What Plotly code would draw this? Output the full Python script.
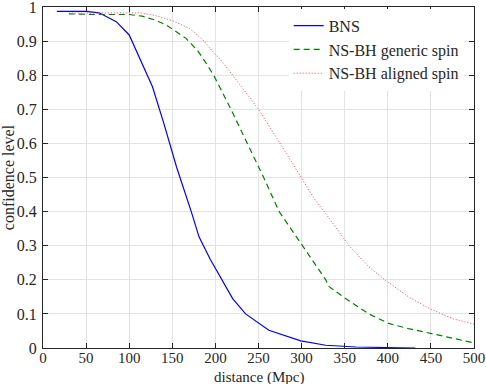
import plotly.graph_objects as go

# BNS
bns_x = [16, 50, 65, 85, 100, 127, 140, 155, 172, 181, 194, 208, 220, 235, 262, 299, 328, 363, 400, 432]
bns_y = [0.987, 0.987, 0.983, 0.957, 0.918, 0.766, 0.66, 0.53, 0.40, 0.326, 0.26, 0.20, 0.145, 0.10, 0.052, 0.021, 0.008, 0.003, 0.001, 0.0]

# NS-BH generic spin
gen_x = [30, 60, 100, 115, 130, 143, 166, 180, 188, 198, 218, 237, 256, 274, 301, 328, 332, 351, 378, 401, 424, 459, 500]
gen_y = [0.980, 0.978, 0.978, 0.973, 0.962, 0.947, 0.908, 0.87, 0.84, 0.80, 0.70, 0.60, 0.50, 0.40, 0.30, 0.20, 0.18, 0.145, 0.10, 0.072, 0.057, 0.037, 0.015]

# NS-BH aligned spin
ali_x = [30, 112, 130, 150, 170, 185, 197, 206, 220, 235, 250, 275, 300, 316, 328, 355, 378, 397, 424, 448, 475, 500]
ali_y = [0.982, 0.983, 0.975, 0.96, 0.937, 0.905, 0.869, 0.845, 0.80, 0.75, 0.70, 0.60, 0.50, 0.433, 0.394, 0.30, 0.238, 0.199, 0.15, 0.116, 0.086, 0.07]

x_ticks = [0, 50, 100, 150, 200, 250, 300, 350, 400, 450, 500]
y_ticks = [0, 0.1, 0.2, 0.3, 0.4, 0.5, 0.6, 0.7, 0.8, 0.9, 1]

FONT = "Liberation Serif"
AX = "#262626"
FS = 16

fig = go.Figure()
fig.add_trace(go.Scatter(x=bns_x, y=bns_y, mode="lines", name="BNS",
                         line=dict(color="#0000ff", width=1.2)))
fig.add_trace(go.Scatter(x=gen_x, y=gen_y, mode="lines", name="NS-BH generic spin",
                         line=dict(color="#008000", width=1.2, dash="6px,4px")))
fig.add_trace(go.Scatter(x=ali_x, y=ali_y, mode="lines", name="NS-BH aligned spin",
                         line=dict(color="#ff3040", width=0.9, dash="1px,2px")))

axis_common = dict(showline=True, linecolor=AX, linewidth=1, mirror="ticks",
                   ticks="inside", ticklen=5, tickcolor=AX, tickwidth=1,
                   showgrid=True, gridcolor="#e3e3e3", gridwidth=1, zeroline=False,
                   automargin=False, ticklabeloverflow="allow")

fig.update_xaxes(range=[0, 500], tickvals=x_ticks, ticktext=[str(v) for v in x_ticks],
                 ticklabelstandoff=-4, tickfont=dict(family=FONT, size=15, color=AX),
                 **axis_common)
fig.update_yaxes(range=[0, 1], tickvals=y_ticks, ticktext=[("%g" % v) for v in y_ticks],
                 ticklabelstandoff=2, tickfont=dict(family=FONT, size=FS, color=AX),
                 title=dict(text="confidence level", font=dict(family=FONT, size=FS, color=AX), standoff=2),
                 **axis_common)

fig.add_annotation(text="distance (Mpc)", xref="paper", yref="paper",
                   x=0.5, y=-29 / 341, xanchor="center", yanchor="middle",
                   showarrow=False, font=dict(family=FONT, size=15, color=AX))

fig.update_layout(
    width=486, height=384,
    margin=dict(l=43, r=12, t=7, b=36),
    plot_bgcolor="white", paper_bgcolor="white",
    font=dict(family=FONT, size=FS, color=AX),
    legend=dict(x=0.57, y=0.995, xanchor="left", yanchor="top",
                bgcolor="white", borderwidth=0,
                font=dict(family=FONT, size=FS, color=AX), tracegroupgap=0),
)

fig.write_html("out.html")
